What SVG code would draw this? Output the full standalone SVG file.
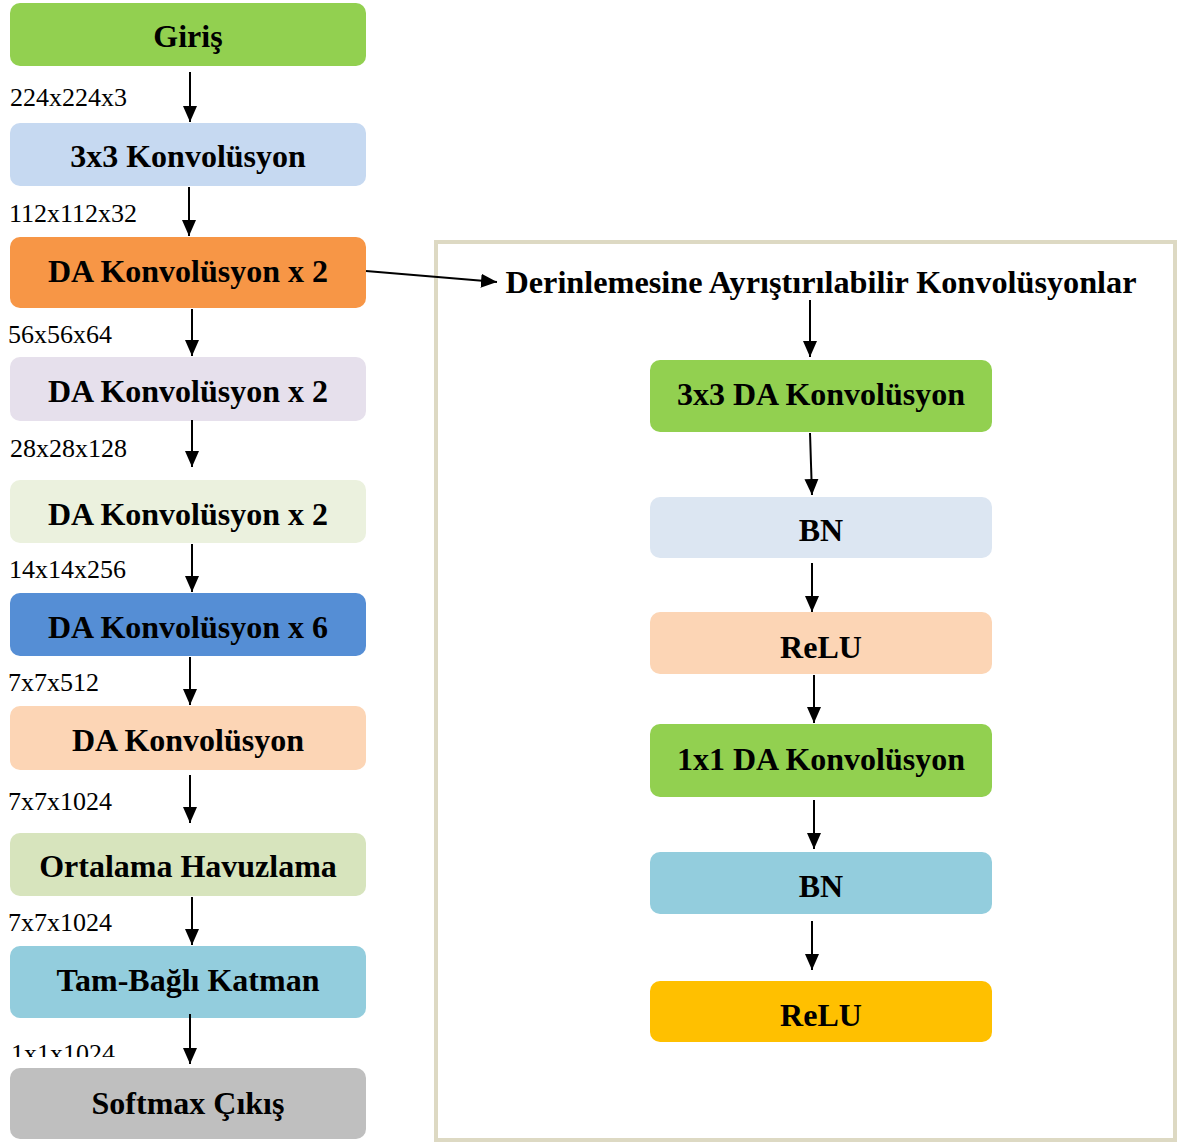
<svg xmlns="http://www.w3.org/2000/svg" width="1179" height="1145" viewBox="0 0 1179 1145">
<style>
.t{font-family:"Liberation Serif","Times New Roman",serif;font-weight:bold;font-size:32px;fill:#000;text-anchor:middle}
.l{font-family:"Liberation Serif","Times New Roman",serif;font-size:26px;fill:#000}
.c{stroke:#000;stroke-width:2;fill:none;marker-end:url(#ah)}
</style>
<defs>
<marker id="ah" markerUnits="userSpaceOnUse" markerWidth="16" markerHeight="16" viewBox="0 0 16 16" refX="16" refY="8" orient="auto">
<path d="M0,1 L16,8 L0,15 Z" fill="#000"/>
</marker>
<clipPath id="clipL"><rect x="0" y="1030" width="200" height="27"/></clipPath>
</defs>
<rect width="1179" height="1145" fill="#fff"/>
<rect id="panel" x="436" y="242" width="739" height="898" fill="none" stroke="#ddd9c3" stroke-width="4"/>

<g id="n-giris"><rect x="10" y="3" width="356" height="63" rx="10" fill="#92d050"/><text class="t" x="188" y="47">Giriş</text></g>
<g id="n-conv3"><rect x="10" y="123" width="356" height="63" rx="10" fill="#c6d9f1"/><text class="t" x="188" y="167">3x3 Konvolüsyon</text></g>
<g id="n-da1"><rect x="10" y="237" width="356" height="71" rx="10" fill="#f79646"/><text class="t" x="188" y="282">DA Konvolüsyon x 2</text></g>
<g id="n-da2"><rect x="10" y="357" width="356" height="64" rx="10" fill="#e6e0ec"/><text class="t" x="188" y="402">DA Konvolüsyon x 2</text></g>
<g id="n-da3"><rect x="10" y="480" width="356" height="63" rx="10" fill="#ebf1de"/><text class="t" x="188" y="525">DA Konvolüsyon x 2</text></g>
<g id="n-da4"><rect x="10" y="593" width="356" height="63" rx="10" fill="#558ed5"/><text class="t" x="188" y="638">DA Konvolüsyon x 6</text></g>
<g id="n-da5"><rect x="10" y="706" width="356" height="64" rx="10" fill="#fcd5b5"/><text class="t" x="188" y="751">DA Konvolüsyon</text></g>
<g id="n-pool"><rect x="10" y="833" width="356" height="63" rx="10" fill="#d7e4bd"/><text class="t" x="188" y="877">Ortalama Havuzlama</text></g>
<g id="n-fc"><rect x="10" y="946" width="356" height="72" rx="10" fill="#93cddd"/><text class="t" x="188" y="991">Tam-Bağlı Katman</text></g>
<g id="n-soft"><rect x="10" y="1068" width="356" height="71" rx="10" fill="#bfbfbf"/><text class="t" x="188" y="1114">Softmax Çıkış</text></g>

<g id="labels">
<text class="l" x="10" y="106">224x224x3</text>
<text class="l" x="9" y="222">112x112x32</text>
<text class="l" x="8" y="343">56x56x64</text>
<text class="l" x="10" y="457">28x28x128</text>
<text class="l" x="9" y="578">14x14x256</text>
<text class="l" x="8" y="691">7x7x512</text>
<text class="l" x="8" y="810">7x7x1024</text>
<text class="l" x="8" y="931">7x7x1024</text>
<text class="l" x="11" y="1062" clip-path="url(#clipL)">1x1x1024</text>
</g>

<g id="n-title"><text class="t" x="821" y="293" font-size="32" textLength="631" lengthAdjust="spacingAndGlyphs">Derinlemesine Ayrıştırılabilir Konvolüsyonlar</text></g>
<g id="r-dw"><rect x="650" y="360" width="342" height="72" rx="10" fill="#92d050"/><text class="t" x="821" y="405">3x3 DA Konvolüsyon</text></g>
<g id="r-bn1"><rect x="650" y="497" width="342" height="61" rx="10" fill="#dce6f2"/><text class="t" x="821" y="541">BN</text></g>
<g id="r-relu1"><rect x="650" y="612" width="342" height="62" rx="10" fill="#fcd5b5"/><text class="t" x="821" y="658">ReLU</text></g>
<g id="r-pw"><rect x="650" y="724" width="342" height="73" rx="10" fill="#92d050"/><text class="t" x="821" y="770">1x1 DA Konvolüsyon</text></g>
<g id="r-bn2"><rect x="650" y="852" width="342" height="62" rx="10" fill="#93cddd"/><text class="t" x="821" y="897">BN</text></g>
<g id="r-relu2"><rect x="650" y="981" width="342" height="61" rx="10" fill="#ffc000"/><text class="t" x="821" y="1026">ReLU</text></g>

<g id="connectors">
<line class="c" x1="190" y1="72" x2="190" y2="122"/>
<line class="c" x1="189" y1="187" x2="189" y2="236"/>
<line class="c" x1="192" y1="309" x2="192" y2="356"/>
<line class="c" x1="192" y1="420" x2="192" y2="467"/>
<line class="c" x1="192" y1="544" x2="192" y2="592"/>
<line class="c" x1="190" y1="657" x2="190" y2="705"/>
<line class="c" x1="190" y1="775" x2="190" y2="823"/>
<line class="c" x1="192" y1="897" x2="192" y2="945"/>
<line class="c" x1="190" y1="1014" x2="190" y2="1064"/>
<line class="c" x1="366" y1="271" x2="497" y2="282"/>
<line class="c" x1="810" y1="300" x2="810" y2="357"/>
<line class="c" x1="810" y1="433" x2="812" y2="495"/>
<line class="c" x1="812" y1="563" x2="812" y2="612"/>
<line class="c" x1="814" y1="675" x2="814" y2="723"/>
<line class="c" x1="814" y1="800" x2="814" y2="849"/>
<line class="c" x1="812" y1="921" x2="812" y2="970"/>
</g>
</svg>
